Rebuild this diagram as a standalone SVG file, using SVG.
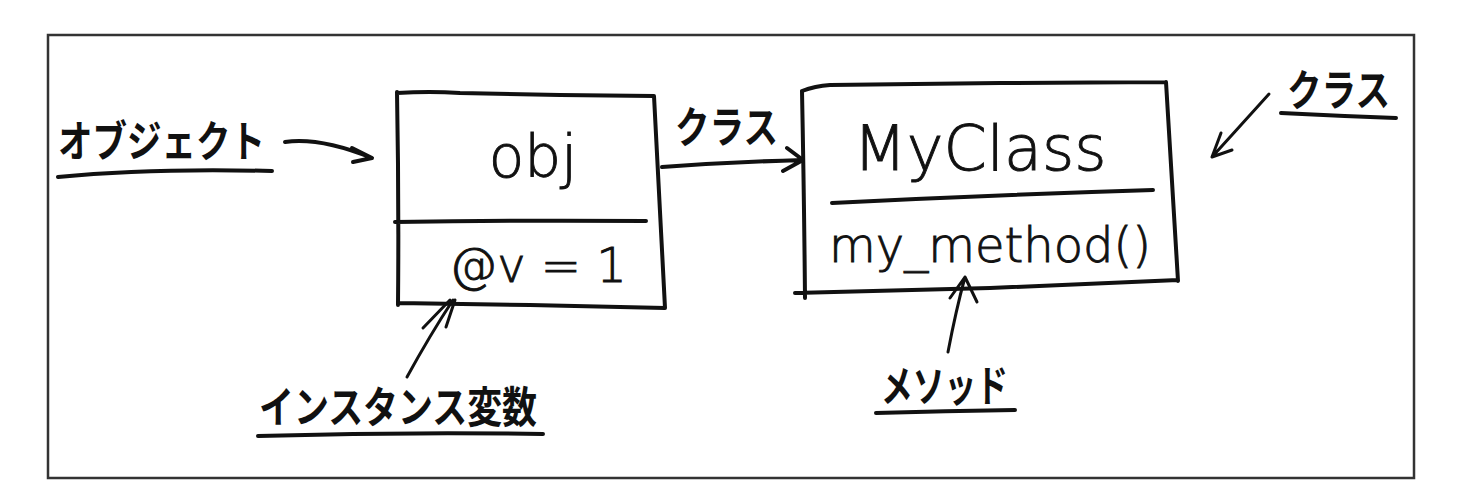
<svg xmlns="http://www.w3.org/2000/svg" width="1484" height="500" viewBox="0 0 1484 500">
<style>
.frame{fill:none;stroke:#333;stroke-width:2.5}
.ink{fill:none;stroke:#111;stroke-width:4;stroke-linecap:round;stroke-linejoin:round}
.thin{fill:none;stroke:#111;stroke-width:3;stroke-linecap:round;stroke-linejoin:round}
.jp{font-family:"Noto Sans CJK JP","Noto Sans",sans-serif;font-weight:700;fill:#111;font-size:43px}
.hand{font-family:"DejaVu Sans","Liberation Sans",sans-serif;font-weight:300;fill:#111;stroke:#111;stroke-width:0.9}
</style>
<rect width="1484" height="500" fill="#fff"/>
<rect class="frame" x="48" y="35" width="1366" height="443"/>

<g id="node-obj">
<path class="ink" d="M397,93 Q430,91 460,93 L560,95 L654,96 M654,96 Q659,200 665,308 M398,303 L530,305 L665,308 M397,92 Q399,200 398,305 M395,222 Q520,220 646,221"/>
<text class="hand" x="533" y="177" font-size="58" text-anchor="middle">obj</text>
<text class="hand" x="538" y="282" font-size="48" text-anchor="middle">@v = 1</text>
</g>

<g id="node-class">
<path class="ink" d="M802,91 Q815,86 830,85 L1000,83 L1166,82 M1166,82 Q1172,180 1178,281 M795,293 L990,288 L1178,280 M802,91 Q804,190 805,298 M832,203 Q990,195 1153,190"/>
<text class="hand" x="980" y="170" font-size="62" text-anchor="middle">MyClass</text>
<text class="hand" x="990" y="262" font-size="48" text-anchor="middle">my_method()</text>
</g>

<g id="label-object">
<text class="jp" x="58" y="157" textLength="207" lengthAdjust="spacingAndGlyphs">オブジェクト</text>
<path class="ink" d="M58,177 Q150,168 272,171"/>
</g>

<g id="label-class-top">
<text class="jp" x="1287" y="106" textLength="103" lengthAdjust="spacingAndGlyphs">クラス</text>
<path class="ink" d="M1281,113 Q1340,116 1396,118"/>
</g>

<g id="label-class-edge">
<text class="jp" x="675" y="143" textLength="103" lengthAdjust="spacingAndGlyphs">クラス</text>
</g>

<g id="label-ivar">
<text class="jp" x="259" y="423" textLength="278" lengthAdjust="spacingAndGlyphs">インスタンス変数</text>
<path class="ink" d="M258,436 Q400,432 543,434"/>
</g>

<g id="label-method">
<text class="jp" x="881" y="402" textLength="127" lengthAdjust="spacingAndGlyphs">メソッド</text>
<path class="ink" d="M876,413 Q945,411 1015,410"/>
</g>

<g id="connectors">
<path class="ink" d="M662,167 Q730,162 803,160 M787,148 L803,160 L783,171"/>
<path class="ink" d="M285,142 Q320,137 372,158 M352,148 L372,158 L353,162"/>
<path class="thin" d="M1269,94 L1212,157 M1221,133 L1212,157 L1232,150"/>
<path class="thin" d="M407,377 Q430,335 453,300 M423,328 L450,300 M446,327 L455,300"/>
<path class="thin" d="M948,352 Q956,310 965,277 M950,298 L965,277 L977,302"/>
</g>
</svg>
